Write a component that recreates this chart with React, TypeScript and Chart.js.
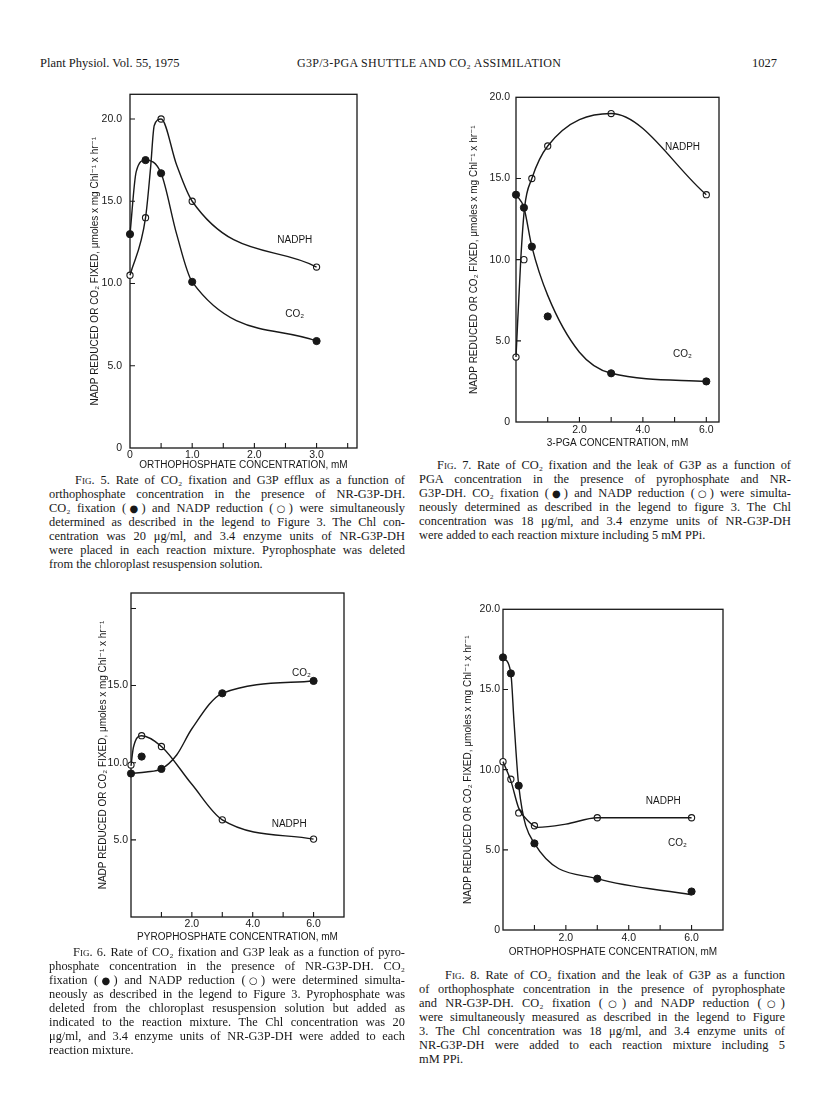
import React, { useEffect, useRef } from "react";
import { Chart, registerables } from "chart.js";

Chart.register(...registerables);

// ---------------- Fig. 5 (orthophosphate, no PPi) ----------------
const FIG5_PTS_X = [0, 0.25, 0.5, 1.0, 3.0];
const FIG5_NADPH = [10.5, 14.0, 20.0, 15.0, 11.0];
const FIG5_CO2 = [13.0, 17.5, 16.7, 10.1, 6.5];
const FIG5_NADPH_CURVE_X = [0, 0.25, 0.33, 0.39, 0.5, 0.75, 1.0, 3.0];
const FIG5_NADPH_CURVE = [10.5, 14.0, 17.0, 19.6, 20.0, 17.2, 15.0, 11.0];
const FIG5_CO2_CURVE_X = [0, 0.1, 0.25, 0.5, 0.75, 1.0, 3.0];
const FIG5_CO2_CURVE = [13.0, 16.8, 17.5, 16.7, 13.0, 10.1, 6.5];
const FIG5_X_TICKS = [0, 1, 2, 3];
const FIG5_X_LABELS = ["0", "1.0", "2.0", "3.0"];
const FIG5_X_MARKS = [0.5, 1, 1.5, 2, 2.5, 3, 3.5];
const FIG5_Y_TICKS = [0, 5, 10, 15, 20];
const FIG5_Y_LABELS = ["0", "5.0", "10.0", "15.0", "20.0"];
const FIG5_Y_MARKS = [5, 10, 15, 20];

// ---------------- Fig. 7 (3-PGA) ----------------
const FIG7_PTS_X = [0, 0.25, 0.5, 1.0, 3.0, 6.0];
const FIG7_NADPH = [4.0, 10.0, 15.0, 17.0, 19.0, 14.0];
const FIG7_CO2 = [14.0, 13.2, 10.8, 6.5, 3.0, 2.5];
const FIG7_NADPH_CURVE_X = [0, 0.15, 0.27, 0.5, 1.0, 3.0, 6.0];
const FIG7_NADPH_CURVE = [4.0, 10.0, 13.2, 15.0, 17.0, 19.0, 14.0];
const FIG7_CO2_CURVE_X = [0, 0.25, 0.5, 1.0, 2.0, 3.0, 6.0];
const FIG7_CO2_CURVE = [14.0, 13.2, 10.8, 7.8, 4.3, 3.0, 2.5];
const FIG7_X_TICKS = [2, 4, 6];
const FIG7_X_LABELS = ["2.0", "4.0", "6.0"];
const FIG7_X_MARKS = [1, 2, 3, 4, 5, 6];
const FIG7_Y_TICKS = [0, 5, 10, 15, 20];
const FIG7_Y_LABELS = ["0", "5.0", "10.0", "15.0", "20.0"];
const FIG7_Y_MARKS = [5, 10, 15];

// ---------------- Fig. 6 (pyrophosphate) ----------------
const FIG6_PTS_X = [0, 0.35, 1.0, 3.0, 6.0];
const FIG6_CO2 = [9.3, 10.4, 9.6, 14.5, 15.3];
const FIG6_NADPH = [9.85, 11.75, 11.05, 6.3, 5.05];
const FIG6_CO2_CURVE_X = [0, 0.5, 1.0, 1.5, 2.0, 3.0, 6.0];
const FIG6_CO2_CURVE = [9.3, 9.4, 9.6, 10.5, 12.2, 14.5, 15.3];
const FIG6_NADPH_CURVE_X = [0, 0.08, 0.35, 1.0, 2.0, 3.0, 6.0];
const FIG6_NADPH_CURVE = [9.8, 11.0, 11.75, 11.05, 8.6, 6.3, 5.05];
const FIG6_X_TICKS = [2, 4, 6];
const FIG6_X_LABELS = ["2.0", "4.0", "6.0"];
const FIG6_X_MARKS = [1, 2, 3, 4, 5, 6];
const FIG6_Y_TICKS = [5, 10, 15];
const FIG6_Y_LABELS = ["5.0", "10.0", "15.0"];
const FIG6_Y_MARKS = [5, 10, 15, 20];

// ---------------- Fig. 8 (orthophosphate + PPi) ----------------
const FIG8_PTS_X = [0, 0.25, 0.5, 1.0, 3.0, 6.0];
const FIG8_CO2 = [17.0, 16.0, 9.0, 5.4, 3.2, 2.4];
const FIG8_NADPH = [10.5, 9.4, 7.3, 6.5, 7.0, 7.0];
const FIG8_CO2_CURVE_X = [0, 0.25, 0.35, 0.5, 1.0, 3.0, 6.0];
const FIG8_CO2_CURVE = [17.0, 16.0, 13.0, 9.0, 5.4, 3.2, 2.2];
const FIG8_NADPH_CURVE_X = [0, 0.25, 0.5, 0.8, 1.1, 2.0, 3.0, 6.0];
const FIG8_NADPH_CURVE = [10.5, 9.3, 7.6, 6.8, 6.4, 6.6, 7.0, 7.0];
const FIG8_X_TICKS = [2, 4, 6];
const FIG8_X_LABELS = ["2.0", "4.0", "6.0"];
const FIG8_X_MARKS = [1, 2, 3, 4, 5, 6];
const FIG8_Y_TICKS = [0, 5, 10, 15, 20];
const FIG8_Y_LABELS = ["0", "5.0", "10.0", "15.0", "20.0"];
const FIG8_Y_MARKS = [5, 10, 15];

const Y_TITLE = "NADP REDUCED OR CO\u2082 FIXED, \u03BCmoles x mg Chl\u207B\u00B9 x hr\u207B\u00B9";

const INK = "#181818";
const SANS = '"Liberation Sans", "DejaVu Sans", sans-serif';
const SERIF = '"Liberation Serif", "DejaVu Serif", serif';

type FigCfg = {
  left: number; top: number; w: number; h: number;
  padTop: number; padRight: number; yAxisW: number; xAxisH: number;
  xMin: number; xMax: number; yMin: number; yMax: number;
  ptsX: number[]; nadph: number[]; co2: number[];
  nadphCurveX: number[]; nadphCurve: number[];
  co2CurveX: number[]; co2Curve: number[];
  xTicks: number[]; xLabels: string[]; xMarks: number[];
  yTicks: number[]; yLabels: string[]; yMarks: number[];
  xTitle: string; xTickPad: number; xTitlePad: number;
  yTickPad: number; yTitlePad: number;
  nadphLabel: [number, number]; co2Label: [number, number];
};

const pts = (xs: number[], ys: number[]) => xs.map((x, i) => ({ x, y: ys[i] }));

function framePlugin(cfg: FigCfg) {
  return {
    id: "frame",
    beforeDatasetsDraw(chart: any) {
      const { ctx, chartArea: a, scales } = chart;
      ctx.save();
      ctx.strokeStyle = INK;
      ctx.lineWidth = 1.3;
      ctx.strokeRect(a.left, a.top, a.right - a.left, a.bottom - a.top);
      ctx.lineWidth = 1.1;
      ctx.beginPath();
      cfg.xMarks.forEach((v) => {
        const px = scales.x.getPixelForValue(v);
        ctx.moveTo(px, a.bottom);
        ctx.lineTo(px, a.bottom - 5);
      });
      cfg.yMarks.forEach((v) => {
        const py = scales.y.getPixelForValue(v);
        ctx.moveTo(a.left, py);
        ctx.lineTo(a.left + 5, py);
      });
      ctx.stroke();
      ctx.restore();
    },
    afterDatasetsDraw(chart: any) {
      const { ctx, scales } = chart;
      ctx.save();
      ctx.fillStyle = INK;
      ctx.font = `10px ${SANS}`;
      ctx.textAlign = "center";
      ctx.textBaseline = "middle";
      ctx.fillText("NADPH", scales.x.getPixelForValue(cfg.nadphLabel[0]), scales.y.getPixelForValue(cfg.nadphLabel[1]));
      ctx.fillText("CO\u2082", scales.x.getPixelForValue(cfg.co2Label[0]), scales.y.getPixelForValue(cfg.co2Label[1]));
      ctx.restore();
    },
  };
}

function buildConfig(cfg: FigCfg): any {
  const line = { borderColor: INK, borderWidth: 1.4, pointRadius: 0, cubicInterpolationMode: "monotone", fill: false, clip: false };
  return {
    type: "line",
    data: {
      datasets: [
        { ...line, data: pts(cfg.nadphCurveX, cfg.nadphCurve) },
        { ...line, data: pts(cfg.co2CurveX, cfg.co2Curve) },
        { data: pts(cfg.ptsX, cfg.nadph), showLine: false, pointRadius: 3.1, pointBorderWidth: 1.1, pointBackgroundColor: "#ffffff", pointBorderColor: INK, clip: false },
        { data: pts(cfg.ptsX, cfg.co2), showLine: false, pointRadius: 3.6, pointBorderWidth: 1, pointBackgroundColor: INK, pointBorderColor: INK, clip: false },
      ],
    },
    options: {
      responsive: false,
      animation: false,
      events: [],
      layout: { padding: { left: 0, top: cfg.padTop, right: cfg.padRight, bottom: 0 } },
      plugins: { legend: { display: false }, tooltip: { enabled: false } },
      scales: {
        x: {
          type: "linear", position: "bottom", min: cfg.xMin, max: cfg.xMax,
          grid: { display: false, drawTicks: false }, border: { display: false },
          afterFit: (s: any) => { s.height = cfg.xAxisH; },
          afterBuildTicks: (s: any) => { s.ticks = cfg.xTicks.map((v) => ({ value: v })); },
          ticks: {
            autoSkip: false, maxRotation: 0, minRotation: 0, padding: cfg.xTickPad, color: INK,
            font: { family: SANS, size: 10.5, lineHeight: 1.2 },
            callback: (v: number) => { const i = cfg.xTicks.indexOf(v); return i >= 0 ? cfg.xLabels[i] : ""; },
          },
          title: { display: true, text: cfg.xTitle, color: INK, font: { family: SANS, size: 10, lineHeight: 1.2 }, padding: { top: 0, bottom: cfg.xTitlePad } },
        },
        y: {
          type: "linear", position: "left", min: cfg.yMin, max: cfg.yMax,
          grid: { display: false, drawTicks: false }, border: { display: false },
          afterFit: (s: any) => { s.width = cfg.yAxisW; },
          afterBuildTicks: (s: any) => { s.ticks = cfg.yTicks.map((v) => ({ value: v })); },
          ticks: {
            autoSkip: false, padding: cfg.yTickPad, color: INK,
            font: { family: SANS, size: 10.5 },
            callback: (v: number) => { const i = cfg.yTicks.indexOf(v); return i >= 0 ? cfg.yLabels[i] : ""; },
          },
          title: { display: true, text: Y_TITLE, color: INK, font: { family: SANS, size: 10, lineHeight: 1.2 }, padding: { top: cfg.yTitlePad, bottom: 0 } },
        },
      },
    },
    plugins: [framePlugin(cfg)],
  };
}

function ChartFig({ cfg }: { cfg: FigCfg }) {
  const ref = useRef<HTMLCanvasElement>(null);
  useEffect(() => {
    const chart = new Chart(ref.current as HTMLCanvasElement, buildConfig(cfg));
    return () => chart.destroy();
  }, []);
  return (
    <canvas
      ref={ref}
      width={cfg.w}
      height={cfg.h}
      style={{ position: "absolute", left: cfg.left, top: cfg.top, width: cfg.w, height: cfg.h }}
    />
  );
}

const FIG5: FigCfg = {
  left: 88, top: 80, w: 277, h: 392, padTop: 12, padRight: 8, yAxisW: 42, xAxisH: 24,
  xMin: 0, xMax: 3.65, yMin: 0, yMax: 21.5,
  ptsX: FIG5_PTS_X, nadph: FIG5_NADPH, co2: FIG5_CO2,
  nadphCurveX: FIG5_NADPH_CURVE_X, nadphCurve: FIG5_NADPH_CURVE,
  co2CurveX: FIG5_CO2_CURVE_X, co2Curve: FIG5_CO2_CURVE,
  xTicks: FIG5_X_TICKS, xLabels: FIG5_X_LABELS, xMarks: FIG5_X_MARKS,
  yTicks: FIG5_Y_TICKS, yLabels: FIG5_Y_LABELS, yMarks: FIG5_Y_MARKS,
  xTitle: "ORTHOPHOSPHATE CONCENTRATION, mM", xTickPad: 1, xTitlePad: 1,
  yTickPad: 8, yTitlePad: 1,
  nadphLabel: [2.65, 12.6], co2Label: [2.65, 8.1],
};

const FIG7: FigCfg = {
  left: 466, top: 85, w: 260, h: 366, padTop: 10, padRight: 7, yAxisW: 50, xAxisH: 29,
  xMin: 0, xMax: 6.4, yMin: 0, yMax: 20,
  ptsX: FIG7_PTS_X, nadph: FIG7_NADPH, co2: FIG7_CO2,
  nadphCurveX: FIG7_NADPH_CURVE_X, nadphCurve: FIG7_NADPH_CURVE,
  co2CurveX: FIG7_CO2_CURVE_X, co2Curve: FIG7_CO2_CURVE,
  xTicks: FIG7_X_TICKS, xLabels: FIG7_X_LABELS, xMarks: FIG7_X_MARKS,
  yTicks: FIG7_Y_TICKS, yLabels: FIG7_Y_LABELS, yMarks: FIG7_Y_MARKS,
  xTitle: "3-PGA CONCENTRATION, mM", xTickPad: 2, xTitlePad: 2,
  yTickPad: 6, yTitlePad: 2,
  nadphLabel: [5.25, 16.9], co2Label: [5.25, 4.2],
};

const FIG6: FigCfg = {
  left: 95, top: 583, w: 257, h: 363, padTop: 10, padRight: 8, yAxisW: 36, xAxisH: 29,
  xMin: 0, xMax: 7, yMin: 0, yMax: 21,
  ptsX: FIG6_PTS_X, nadph: FIG6_NADPH, co2: FIG6_CO2,
  nadphCurveX: FIG6_NADPH_CURVE_X, nadphCurve: FIG6_NADPH_CURVE,
  co2CurveX: FIG6_CO2_CURVE_X, co2Curve: FIG6_CO2_CURVE,
  xTicks: FIG6_X_TICKS, xLabels: FIG6_X_LABELS, xMarks: FIG6_X_MARKS,
  yTicks: FIG6_Y_TICKS, yLabels: FIG6_Y_LABELS, yMarks: FIG6_Y_MARKS,
  xTitle: "PYROPHOSPHATE CONCENTRATION, mM", xTickPad: 1, xTitlePad: 3,
  yTickPad: 3, yTitlePad: 2,
  nadphLabel: [5.2, 6.0], co2Label: [5.6, 15.8],
};

const FIG8: FigCfg = {
  left: 460, top: 600, w: 271, h: 361, padTop: 9, padRight: 8, yAxisW: 43, xAxisH: 31,
  xMin: 0, xMax: 7, yMin: 0, yMax: 20,
  ptsX: FIG8_PTS_X, nadph: FIG8_NADPH, co2: FIG8_CO2,
  nadphCurveX: FIG8_NADPH_CURVE_X, nadphCurve: FIG8_NADPH_CURVE,
  co2CurveX: FIG8_CO2_CURVE_X, co2Curve: FIG8_CO2_CURVE,
  xTicks: FIG8_X_TICKS, xLabels: FIG8_X_LABELS, xMarks: FIG8_X_MARKS,
  yTicks: FIG8_Y_TICKS, yLabels: FIG8_Y_LABELS, yMarks: FIG8_Y_MARKS,
  xTitle: "ORTHOPHOSPHATE CONCENTRATION, mM", xTickPad: 2, xTitlePad: 3,
  yTickPad: 3, yTitlePad: 2,
  nadphLabel: [5.1, 8.0], co2Label: [5.55, 5.4],
};

const CAP5 = [
  "Rate of CO\u2082 fixation and G3P efflux as a function of",
  "orthophosphate concentration in the presence of NR-G3P-DH.",
  "CO\u2082 fixation (\u25CF) and NADP reduction (\u25CB) were simultaneously",
  "determined as described in the legend to Figure 3. The Chl con-",
  "centration was 20 \u03BCg/ml, and 3.4 enzyme units of NR-G3P-DH",
  "were placed in each reaction mixture. Pyrophosphate was deleted",
  "from the chloroplast resuspension solution.",
];
const CAP7 = [
  "Rate of CO\u2082 fixation and the leak of G3P as a function of",
  "PGA concentration in the presence of pyrophosphate and NR-",
  "G3P-DH. CO\u2082 fixation (\u25CF) and NADP reduction (\u25CB) were simulta-",
  "neously determined as described in the legend to figure 3. The Chl",
  "concentration was 18 \u03BCg/ml, and 3.4 enzyme units of NR-G3P-DH",
  "were added to each reaction mixture including 5 mM PPi.",
];
const CAP6 = [
  "Rate of CO\u2082 fixation and G3P leak as a function of pyro-",
  "phosphate concentration in the presence of NR-G3P-DH. CO\u2082",
  "fixation (\u25CF) and NADP reduction (\u25CB) were determined simulta-",
  "neously as described in the legend to Figure 3. Pyrophosphate was",
  "deleted from the chloroplast resuspension solution but added as",
  "indicated to the reaction mixture. The Chl concentration was 20",
  "\u03BCg/ml, and 3.4 enzyme units of NR-G3P-DH were added to each",
  "reaction mixture.",
];
const CAP8 = [
  "Rate of CO\u2082 fixation and the leak of G3P as a function",
  "of orthophosphate concentration in the presence of pyrophosphate",
  "and NR-G3P-DH. CO\u2082 fixation (\u25CB) and NADP reduction (\u25CB)",
  "were simultaneously measured as described in the legend to Figure",
  "3. The Chl concentration was 18 \u03BCg/ml, and 3.4 enzyme units of",
  "NR-G3P-DH were added to each reaction mixture including 5",
  "mM PPi.",
];

function withSymbols(text: string) {
  const parts = text.split(/([\u25CF\u25CB])/);
  return parts.map((p, i) =>
    p === "\u25CF" || p === "\u25CB" ? (
      <span key={i} style={{ fontFamily: '"DejaVu Sans", sans-serif', fontSize: 10 }}>{p}</span>
    ) : (
      <React.Fragment key={i}>{p}</React.Fragment>
    )
  );
}

function Caption({ left, top, width, label, lines, indent }: { left: number; top: number; width: number; label: string; lines: string[]; indent: number }) {
  return (
    <div style={{ position: "absolute", left, top, width, fontFamily: SERIF, fontSize: 12.4, lineHeight: "14px", color: INK }}>
      {lines.map((ln, i) => (
        <div
          key={i}
          style={{
            textAlign: "justify",
            textAlignLast: i === lines.length - 1 ? "left" : "justify",
            paddingLeft: i === 0 ? indent : 0,
            height: 14,
            overflow: "visible",
          }}
        >
          {i === 0 ? (
            <>
              <span style={{ fontVariant: "small-caps" }}>{label}</span> {withSymbols(ln)}
            </>
          ) : (
            withSymbols(ln)
          )}
        </div>
      ))}
    </div>
  );
}

export default function App() {
  return (
    <div style={{ position: "absolute", left: 0, top: 0, width: 816, height: 1098, background: "#ffffff", overflow: "hidden" }}>
      <div style={{ position: "absolute", left: 40, top: 56, fontFamily: SERIF, fontSize: 12.5, color: INK, whiteSpace: "nowrap" }}>
        Plant Physiol. Vol. 55, 1975
      </div>
      <div style={{ position: "absolute", left: 297, top: 56, fontFamily: SERIF, fontSize: 12, color: INK, whiteSpace: "nowrap", letterSpacing: 0.3 }}>
        G3P/3-PGA SHUTTLE AND CO{"\u2082"} ASSIMILATION
      </div>
      <div style={{ position: "absolute", left: 752, top: 56, fontFamily: SERIF, fontSize: 12.5, color: INK }}>1027</div>

      <ChartFig cfg={FIG5} />
      <ChartFig cfg={FIG7} />
      <ChartFig cfg={FIG6} />
      <ChartFig cfg={FIG8} />

      <Caption left={49} top={473} width={356} label="Fig. 5." lines={CAP5} indent={26} />
      <Caption left={419} top={458} width={372} label="Fig. 7." lines={CAP7} indent={18} />
      <Caption left={49} top={945} width={356} label="Fig. 6." lines={CAP6} indent={24} />
      <Caption left={419} top={968} width={366} label="Fig. 8." lines={CAP8} indent={26} />
    </div>
  );
}
